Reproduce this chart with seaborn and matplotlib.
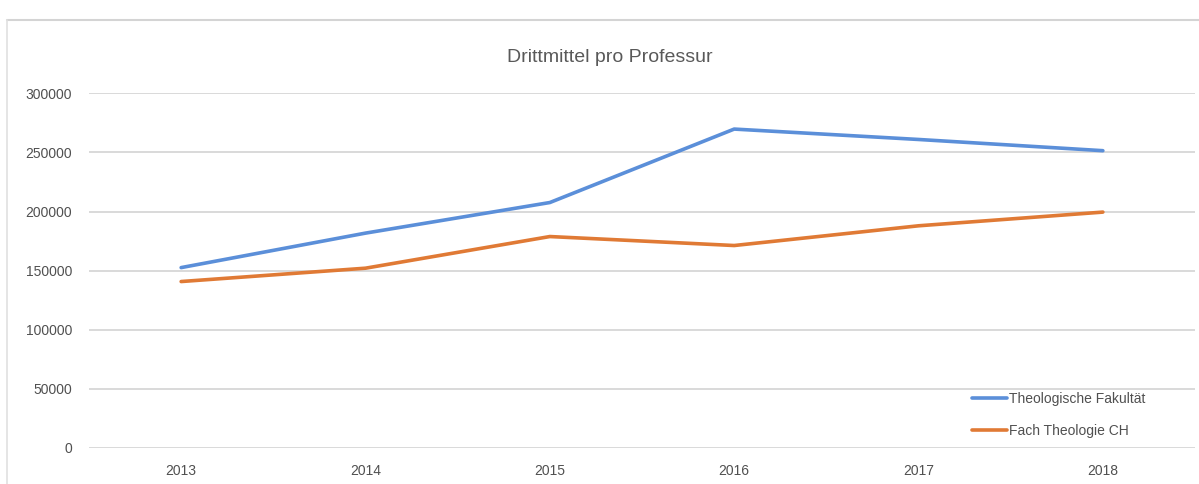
import pandas as pd
import matplotlib
matplotlib.use("Agg")
import matplotlib.pyplot as plt
from matplotlib.lines import Line2D
import seaborn as sns

# --- data ---
years = ["2013", "2014", "2015", "2016", "2017", "2018"]
fakultaet = [152500, 181700, 207600, 269800, 261000, 251500]
fach_ch = [140700, 152000, 178800, 171200, 187900, 199500]
series_names = ["Theologische Fakultät", "Fach Theologie CH"]
colors = ["#5b8fd9", "#e07a35"]
y_ticks = [0, 50000, 100000, 150000, 200000, 250000, 300000]

df = pd.DataFrame({
    "Jahr": years * 2,
    "Wert": fakultaet + fach_ch,
    "Serie": [series_names[0]] * len(years) + [series_names[1]] * len(years),
})

sns.set_theme(style="white")
plt.rcParams["font.family"] = ["Liberation Sans", "DejaVu Sans"]

fig = plt.figure(figsize=(11.99, 4.84), dpi=100)
ax = fig.add_axes([0.0742, 0.075, 0.9225, 0.732])

sns.lineplot(data=df, x="Jahr", y="Wert", hue="Serie", palette=colors,
             linewidth=2.6, sort=False, ax=ax)

ax.set_xlim(-0.5, len(years) - 0.5)
ax.set_ylim(0, 300000)
ax.set_yticks(y_ticks)
ax.set_yticklabels([str(v) for v in y_ticks])
ax.yaxis.grid(True, color="#d9d9d9", linewidth=1.4)
ax.set_axisbelow(True)
for s in ax.spines.values():
    s.set_visible(False)
ax.tick_params(axis="both", length=0, labelsize=10, colors="#505050")
ax.tick_params(axis="y", pad=12)
ax.tick_params(axis="x", pad=12)
ax.set_xlabel("")
ax.set_ylabel("")

fig.text(0.5088, 0.882, "Drittmittel pro Professur", ha="center", va="center",
         fontsize=14, color="#595959")

ax.legend(loc="upper left", bbox_to_anchor=(0.792, 0.178), frameon=False,
          fontsize=10, handlelength=2.5, handletextpad=0.2, labelspacing=1.3,
          borderpad=0, labelcolor="#505050")

# thin outer chart border like in the screenshot
fig.add_artist(Line2D([0.006, 1.0], [0.958, 0.958], color="#d4d4d4", linewidth=1.5))
fig.add_artist(Line2D([0.006, 0.006], [0.0, 0.958], color="#e0e0e0", linewidth=1.2))

fig.savefig("out.png", dpi=100)
